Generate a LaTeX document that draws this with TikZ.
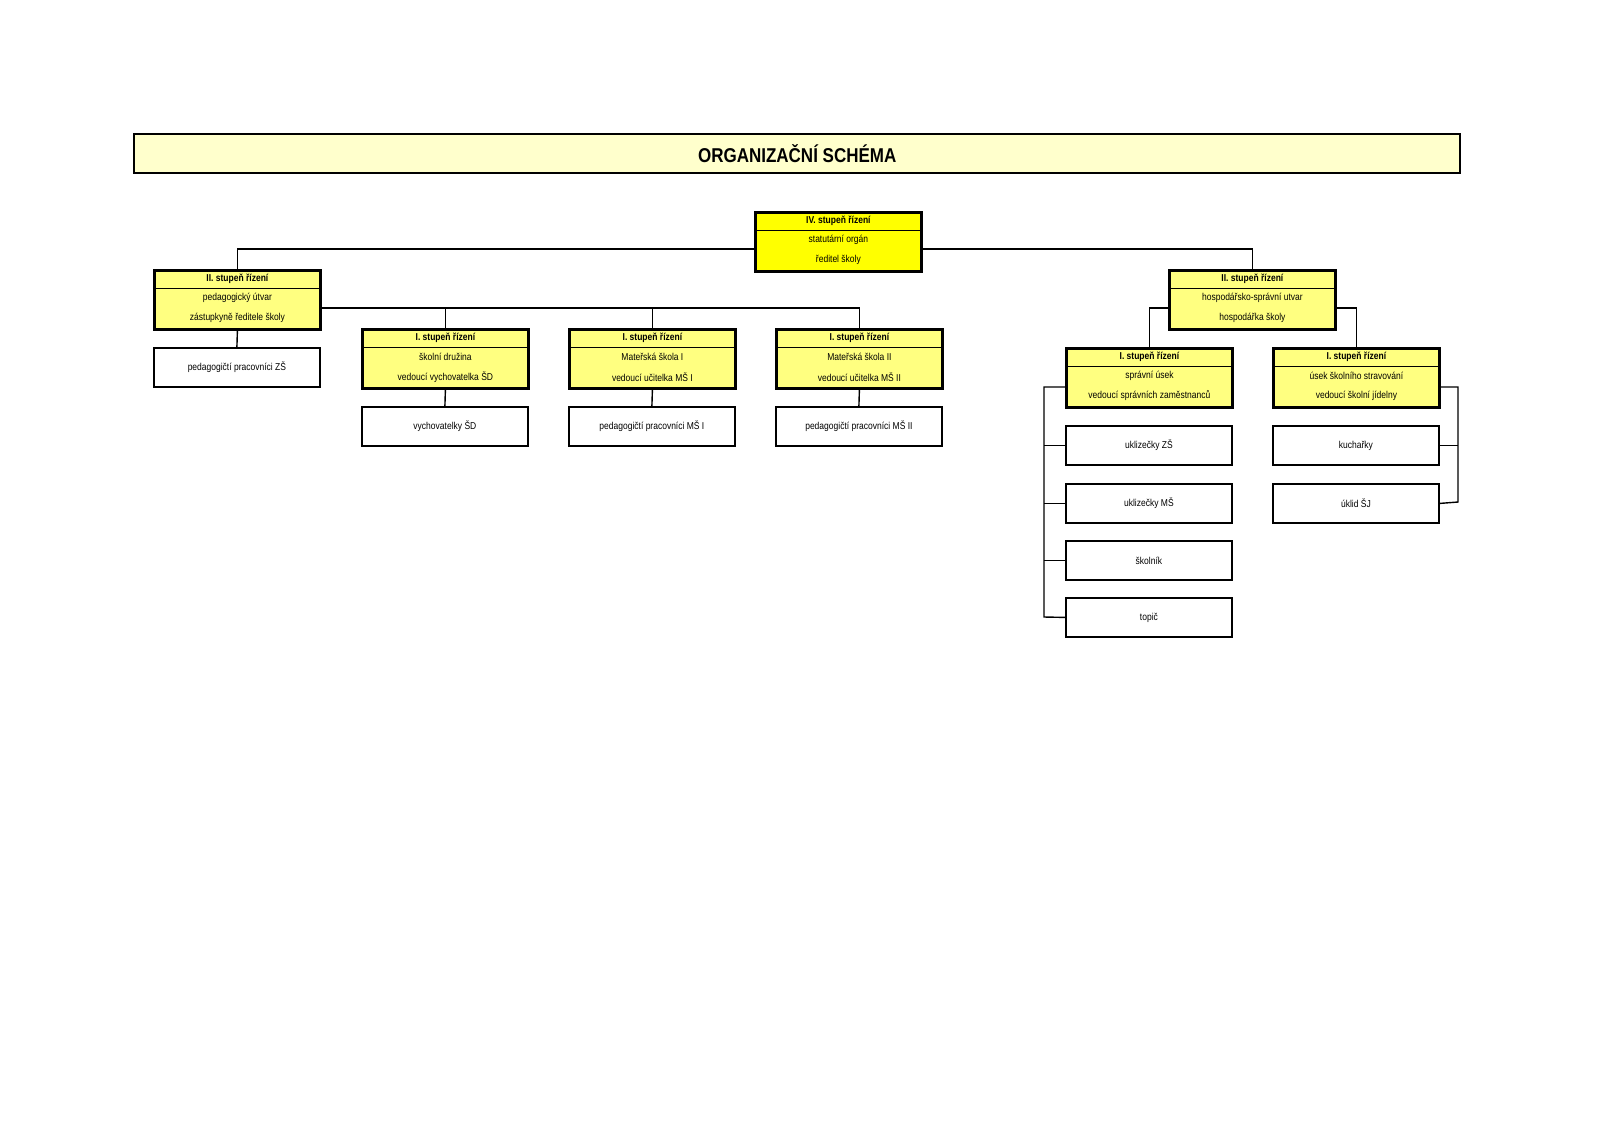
\documentclass[tikz,border=0pt]{standalone}
\usepackage{fontspec}
\setmainfont{Liberation Sans}[FakeStretch=0.85]
\definecolor{ttl}{HTML}{FFFFCC}
\definecolor{yb}{HTML}{FFFF00}
\definecolor{yl}{HTML}{FFFF80}
\tikzset{
 box/.style={draw, anchor=north west, inner sep=0, minimum width=83pt},
 lead/.style={box, line width=1.4pt, minimum height=29.5pt},
 plain/.style={box, line width=0.9pt, minimum height=19.5pt, font=\fontsize{5}{6}\selectfont},
 conn/.style={line width=0.7pt},
}
\newcommand{\lead}[7]{%
 \node[lead, fill=#4] (#1) at (#2,#3) {};
 \draw[line width=0.4pt] ([yshift=-9.75pt]#1.north west) -- ([yshift=-9.75pt]#1.north east);
 \node[font=\fontsize{5}{6}\selectfont\bfseries] (#1h) at ([yshift=-4.9pt]#1.north) {#5};
 \node[font=\fontsize{5}{6}\selectfont] (#1a) at ([yshift=-14.6pt]#1.north) {#6};
 \node[font=\fontsize{5}{6}\selectfont] (#1b) at ([yshift=-24.4pt]#1.north) {#7};
}
\begin{document}
\begin{tikzpicture}[x=0.5pt,y=-0.5pt]
\useasboundingbox (0,0) rectangle (1600,1131);
\node[draw, fill=ttl, line width=1.2pt, anchor=north west, minimum width=663pt, minimum height=19.5pt, inner sep=0, font=\fontsize{10}{12}\selectfont\bfseries] (title) at (133,133) {ORGANIZAČNÍ SCHÉMA};
\lead{top}{754}{211}{yb}{IV. stupeň řízení}{statutární orgán}{ředitel školy}
\lead{pl}{153}{269}{yl}{II. stupeň řízení}{pedagogický útvar}{zástupkyně ředitele školy}
\lead{pr}{1168}{269}{yl}{II. stupeň řízení}{hospodářsko-správní utvar}{hospodářka školy}
\lead{sd}{361}{328}{yl}{I. stupeň řízení}{školní družina}{vedoucí vychovatelka ŠD}
\lead{ms1}{568}{328}{yl}{I. stupeň řízení}{Mateřská škola I}{vedoucí učitelka MŠ I}
\lead{ms2}{775}{328}{yl}{I. stupeň řízení}{Mateřská škola II}{vedoucí učitelka MŠ II}
\lead{su}{1065}{347}{yl}{I. stupeň řízení}{správní úsek}{vedoucí správních zaměstnanců}
\lead{ss}{1272}{347}{yl}{I. stupeň řízení}{úsek školního stravování}{vedoucí školní jídelny}
\node[plain] (pzs) at (153,347) {pedagogičtí pracovníci ZŠ};
\node[plain] (vsd) at (361,406) {vychovatelky ŠD};
\node[plain] (pm1) at (568,406) {pedagogičtí pracovníci MŠ I};
\node[plain] (pm2) at (775,406) {pedagogičtí pracovníci MŠ II};
\node[plain] (uz) at (1065,425) {uklizečky ZŠ};
\node[plain] (um) at (1065,483) {uklizečky MŠ};
\node[plain] (sk) at (1065,540) {školník};
\node[plain] (tp) at (1065,597) {topič};
\node[plain] (ku) at (1272,425) {kuchařky};
\node[plain] (uj) at (1272,483) {úklid ŠJ};
\coordinate (bl) at (1044,617);
\coordinate (br) at (1458,502);
% connectors
\draw[conn] (top.west |- 0,249) -| (pl.north);
\draw[conn] (top.east |- 0,249) -| (pr.north);
\draw[conn] (pl.east |- 0,308) -| (ms2.north);
\draw[conn] (sd.north) -- (sd.north |- 0,308);
\draw[conn] (ms1.north) -- (ms1.north |- 0,308);
\draw[conn] (pl.south) -- (pzs.north);
\draw[conn] (sd.south) -- (vsd.north);
\draw[conn] (ms1.south) -- (pm1.north);
\draw[conn] (ms2.south) -- (pm2.north);
\draw[conn] (pr.west |- 0,308) -| (su.north);
\draw[conn] (pr.east |- 0,308) -| (ss.north);
\draw[conn] (su.west |- 0,387) -| (bl) -- (tp.west);
\draw[conn] (uz.west) -- (uz.west -| bl);
\draw[conn] (um.west) -- (um.west -| bl);
\draw[conn] (sk.west) -- (sk.west -| bl);
\draw[conn] (ss.east |- 0,387) -| (br) -- (uj.east);
\draw[conn] (ku.east) -- (ku.east -| br);
\end{tikzpicture}
\end{document}
